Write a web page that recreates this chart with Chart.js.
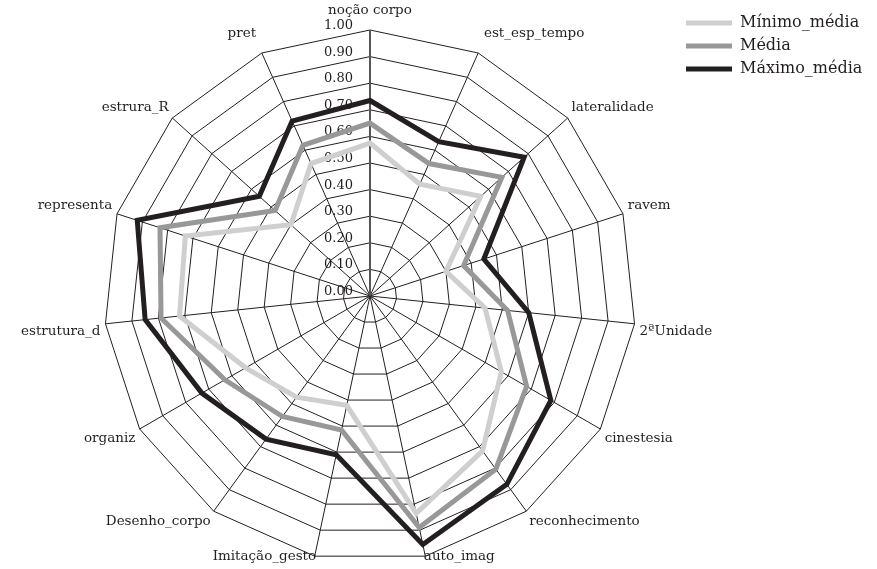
<!DOCTYPE html>
<html>
<head>
<meta charset="utf-8">
<script src="https://cdn.jsdelivr.net/npm/chart.js@4.4.1/dist/chart.umd.min.js"></script>
<style>
  html, body { margin: 0; padding: 0; background: #fff; overflow: hidden; }
  /* o canvas passa um pouco das bordas para o radar ficar do tamanho do original */
  #wrap { position: absolute; left: -20px; top: -8px; width: 897px; height: 584px; }
</style>
</head>
<body>
<div id="wrap"><canvas id="radar"></canvas></div>
<script>
// eixos do radar, no sentido horario a partir do topo
const categories = ['noção corpo', 'est_esp_tempo', 'lateralidade', 'ravem', '2ªUnidade',
  'cinestesia', 'reconhecimento', 'auto_imag', 'Imitação_gesto', 'Desenho_corpo',
  'organiz', 'estrutura_d', 'representa', 'estrura_R', 'pret'];

const minimoMedia = [0.575, 0.46, 0.56, 0.30, 0.435, 0.57, 0.72, 0.835, 0.42, 0.47, 0.54, 0.72, 0.73, 0.40, 0.545];
const media = [0.65, 0.545, 0.667, 0.37, 0.52, 0.68, 0.805, 0.89, 0.515, 0.56, 0.63, 0.79, 0.83, 0.48, 0.62];
const maximoMedia = [0.735, 0.635, 0.78, 0.45, 0.60, 0.785, 0.875, 0.955, 0.61, 0.665, 0.73, 0.85, 0.92, 0.56, 0.72];

const seriesNames = ['Mínimo_média', 'Média', 'Máximo_média'];
const tickValues = [0, 0.1, 0.2, 0.3, 0.4, 0.5, 0.6, 0.7, 0.8, 0.9, 1.0];

const serif = "'DejaVu Serif', 'Liberation Serif', serif";
const ink = '#231f20';

const dataset = (label, data, color) => ({
  label,
  data,
  borderColor: color,
  backgroundColor: color,
  borderWidth: 5,
  borderJoinStyle: 'miter',
  pointRadius: 0,
  fill: false,
  tension: 0
});

// distancia de cada rotulo ate a ponta do eixo
const labelPad = c => {
  if (c.index === 0) return 12.5;
  if (c.index === 1 || c.index === 14) return 14;
  if (c.index === 7 || c.index === 8) return -7;
  return 5;
};

// etiquetas do eixo radial desenhadas a esquerda do eixo vertical
const tickLabelPlugin = {
  id: 'tickLabels',
  beforeDatasetsDraw(chart) {
    const scale = chart.scales.r;
    const ctx = chart.ctx;
    ctx.save();
    ctx.font = '13px ' + serif;
    ctx.fillStyle = ink;
    ctx.textAlign = 'right';
    ctx.textBaseline = 'alphabetic';
    tickValues.forEach(v => {
      const d = scale.getDistanceFromCenterForValue(v);
      ctx.fillText(v.toFixed(2), scale.xCenter - 17, scale.yCenter - d - 1);
    });
    ctx.restore();
  }
};

// a legenda fica por cima, no canto superior direito
const legendPlace = {
  id: 'legendPlace',
  afterLayout(chart) {
    const lg = chart.legend;
    if (lg) {
      lg.left = 699;
      lg.top = 16;
      lg.right = chart.width;
      lg.bottom = 130;
    }
  }
};

new Chart(document.getElementById('radar'), {
  type: 'radar',
  data: {
    labels: categories,
    datasets: [
      dataset(seriesNames[0], minimoMedia, '#cfcfcf'),
      dataset(seriesNames[1], media, '#98989a'),
      dataset(seriesNames[2], maximoMedia, ink)
    ]
  },
  options: {
    responsive: true,
    maintainAspectRatio: false,
    animation: false,
    layout: { padding: { top: 0, bottom: 0, left: 0, right: 117 } },
    scales: {
      r: {
        min: 0,
        max: 1,
        ticks: { stepSize: 0.1, display: false },
        grid: { color: ink, lineWidth: 1 },
        angleLines: {
          color: c => c.index === 0 ? '#555' : ink,
          lineWidth: c => c.index === 0 ? 2 : 1
        },
        pointLabels: {
          padding: labelPad,
          color: ink,
          font: { family: serif, size: 13.5, lineHeight: 1 }
        }
      }
    },
    plugins: {
      tooltip: { enabled: false },
      legend: {
        position: 'chartArea',
        align: 'start',
        labels: {
          boxWidth: 46,
          boxHeight: 5,
          padding: 7,
          color: ink,
          font: { family: serif, size: 16 },
          generateLabels: chart => Chart.defaults.plugins.legend.labels.generateLabels(chart)
            .map(item => Object.assign(item, { lineWidth: 0 }))
        }
      }
    }
  },
  plugins: [tickLabelPlugin, legendPlace]
});
</script>
</body>
</html>
